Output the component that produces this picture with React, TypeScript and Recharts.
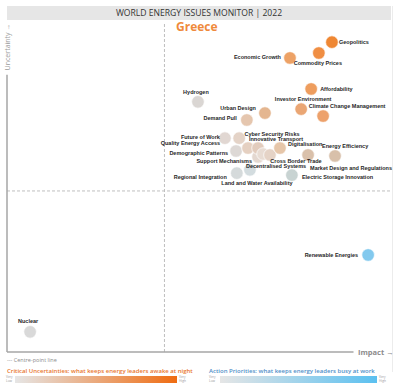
import { ScatterChart, Scatter, XAxis, YAxis, ReferenceLine } from "recharts";

// issue names, impact (x) and uncertainty (y)
const issueNames = [
  "Geopolitics", "Commodity Prices", "Economic Growth", "Affordability",
  "Investor Environment", "Climate Change Management", "Hydrogen", "Urban Design",
  "Demand Pull", "Future of Work", "Quality Energy Access", "Demographic Patterns",
  "Cyber Security Risks", "Support Mechanisms", "Innovative Transport",
  "Decentralised Systems", "Cross Border Trade", "Digitalisation", "Energy Efficiency",
  "Market Design and Regulations", "Regional Integration", "Land and Water Availability",
  "Electric Storage Innovation", "Renewable Energies", "Nuclear",
];
const impact = [
  84.4, 81.0, 73.5, 79.0, 76.4, 82.1, 49.6, 67.0, 62.3, 56.6, 60.3, 59.5, 62.6,
  65.2, 65.2, 66.5, 68.3, 70.9, 78.2, 85.2, 59.7, 63.1, 74.0, 93.8, 6.0,
];
const uncertainty = [
  93.9, 90.6, 89.1, 79.7, 73.6, 71.5, 75.8, 72.4, 70.3, 64.8, 64.8, 60.9, 61.8,
  59.1, 61.8, 60.0, 59.7, 61.8, 59.7, 59.4, 54.2, 55.2, 53.6, 29.4, 6.1,
];
const centreX = 40.9;
const centreY = 48.8;

const colors: Record<string, string> = {
  "Geopolitics": "#ef8733",
  "Commodity Prices": "#f08e43",
  "Economic Growth": "#eda266",
  "Affordability": "#ee9d5e",
  "Investor Environment": "#eaa674",
  "Climate Change Management": "#eda16b",
  "Hydrogen": "#dad6d3",
  "Urban Design": "#e4b690",
  "Demand Pull": "#e5c6ae",
  "Future of Work": "#e1d7d2",
  "Quality Energy Access": "#e4d3c7",
  "Demographic Patterns": "#ddd8d5",
  "Cyber Security Risks": "#e5d0c1",
  "Support Mechanisms": "#e4d8d0",
  "Innovative Transport": "#e2ccbd",
  "Decentralised Systems": "#e8dcd3",
  "Cross Border Trade": "#e5d3c6",
  "Digitalisation": "#e6c6a9",
  "Energy Efficiency": "#d9c0aa",
  "Market Design and Regulations": "#d8c0aa",
  "Regional Integration": "#d5dadb",
  "Land and Water Availability": "#d3dcdf",
  "Electric Storage Innovation": "#c8d3d2",
  "Renewable Energies": "#82c9ee",
  "Nuclear": "#d9d9d9",
};

// label placement relative to bubble: [dx, dy, anchor]
const labelPos: Record<string, [number, number, string]> = {
  "Geopolitics": [7, 0, "start"],
  "Commodity Prices": [-1, 10, "middle"],
  "Economic Growth": [-9, -1, "end"],
  "Affordability": [9, 0, "start"],
  "Investor Environment": [2, -10, "middle"],
  "Climate Change Management": [24, -10, "middle"],
  "Hydrogen": [-2, -10, "middle"],
  "Urban Design": [-9, -5, "end"],
  "Demand Pull": [-10, -2, "end"],
  "Future of Work": [-5, -1, "end"],
  "Quality Energy Access": [-19, 5, "end"],
  "Demographic Patterns": [-8, 2, "end"],
  "Cyber Security Risks": [24, -14, "middle"],
  "Support Mechanisms": [-6, 4, "end"],
  "Innovative Transport": [18, -9, "middle"],
  "Decentralised Systems": [13, 12, "middle"],
  "Cross Border Trade": [26, 6, "middle"],
  "Digitalisation": [8, -4, "start"],
  "Energy Efficiency": [14, -9, "start"],
  "Market Design and Regulations": [16, 12, "middle"],
  "Regional Integration": [-10, 4, "end"],
  "Land and Water Availability": [7, 13, "middle"],
  "Electric Storage Innovation": [10, 2, "start"],
  "Renewable Energies": [-10, 0, "end"],
  "Nuclear": [-2, -11, "middle"],
};

const data = issueNames.map((name, i) => ({
  name,
  x: impact[i],
  y: uncertainty[i],
}));

const Bubble = (props: any) => {
  const { cx, cy, payload } = props;
  return <circle cx={cx} cy={cy} r={6.3} fill={colors[payload.name]} stroke="#fff" strokeWidth={0.7} />;
};

const BubbleLabel = (props: any) => {
  const { cx, cy, payload } = props;
  const name = payload.name;
  const [dx, dy, anchor] = labelPos[name] ?? [8, 0, "start"];
  return (
    <text
      x={cx + dx}
      y={cy + dy}
      textAnchor={anchor as any}
      dominantBaseline="central"
      fontSize={5.5}
      fontWeight="bold"
      fill="#1f1f1f"
      fontFamily="Liberation Sans, Arial, sans-serif"
    >
      {name}
    </text>
  );
};

const font = "'Open Sans', 'Liberation Sans', sans-serif";

export default function App() {
  return (
    <div
      style={{
        position: "absolute",
        left: 0,
        top: 0,
        width: 420,
        height: 388,
        background: "#fff",
        fontFamily: font,
        overflow: "hidden",
      }}
    >
      <div
        style={{
          position: "absolute",
          left: 7,
          top: 6,
          width: 384,
          height: 14,
          background: "#e6e6e6",
          color: "#333",
          fontSize: 8.6,
          lineHeight: "14px",
          textAlign: "center",
        }}
      >
        WORLD ENERGY ISSUES MONITOR | 2022
      </div>
      <div
        style={{
          position: "absolute",
          left: 392,
          top: 6,
          width: 1,
          height: 366,
          background: "#ececec",
        }}
      />
      <ScatterChart
        width={420}
        height={388}
        margin={{ top: 22, right: 28, bottom: 36, left: 7 }}
        style={{ position: "absolute", left: 0, top: 0 }}
      >
        <XAxis type="number" dataKey="x" domain={[0, 100]} hide />
        <YAxis type="number" dataKey="y" domain={[0, 100]} hide />
        <ReferenceLine
          segment={[{ x: centreX, y: 0 }, { x: centreX, y: 100 }]}
          stroke="#bfbfbf"
          strokeDasharray="3 2"
          strokeWidth={1}
        />
        <ReferenceLine
          segment={[{ x: 0, y: centreY }, { x: 100, y: centreY }]}
          stroke="#bfbfbf"
          strokeDasharray="3 2"
          strokeWidth={1}
        />
        <ReferenceLine
          segment={[{ x: 0, y: 0 }, { x: 0, y: 84 }]}
          stroke="#a6a6a6"
          strokeWidth={1.5}
        />
        <ReferenceLine
          segment={[{ x: 0, y: 0 }, { x: 90, y: 0 }]}
          stroke="#a6a6a6"
          strokeWidth={1.5}
        />
        <Scatter data={data} shape={Bubble} isAnimationActive={false} />
        <Scatter data={data} shape={BubbleLabel} isAnimationActive={false} />
      </ScatterChart>
      <div
        style={{
          position: "absolute",
          left: 176,
          top: 20,
          fontSize: 12,
          fontWeight: "bold",
          color: "#ef8a3c",
          lineHeight: "14px",
        }}
      >
        Greece
      </div>
      <div
        style={{
          position: "absolute",
          left: 7,
          top: 47,
          width: 0,
          height: 0,
        }}
      >
        <div
          style={{
            position: "absolute",
            left: -24,
            top: -5,
            width: 50,
            fontSize: 7,
            color: "#9a9a9a",
            lineHeight: "10px",
            transform: "rotate(-90deg)",
            textAlign: "center",
            whiteSpace: "nowrap",
          }}
        >
          Uncertainty →
        </div>
      </div>
      <div
        style={{
          position: "absolute",
          left: 358,
          top: 347,
          fontSize: 7.5,
          fontWeight: "bold",
          color: "#8c8c8c",
          lineHeight: "11px",
          whiteSpace: "nowrap",
        }}
      >
        Impact →
      </div>
      <div
        style={{
          position: "absolute",
          left: 7,
          top: 356,
          fontSize: 5.5,
          color: "#8c8c8c",
          lineHeight: "8px",
          whiteSpace: "nowrap",
        }}
      >
        --- Centre-point line
      </div>
      <div
        style={{
          position: "absolute",
          left: 7,
          top: 367,
          fontSize: 6,
          fontWeight: 600,
          color: "#e8762e",
          lineHeight: "8px",
          whiteSpace: "nowrap",
        }}
      >
        Critical Uncertainties: what keeps energy leaders awake at night
      </div>
      <div
        style={{
          position: "absolute",
          left: 15,
          top: 376,
          width: 162,
          height: 7,
          background: "linear-gradient(to right, #e6e6e6, #ef6c12)",
        }}
      />
      <div style={{ position: "absolute", left: 6, top: 375, fontSize: 3.2, color: "#999", lineHeight: "4px" }}>
        Very<br />Low
      </div>
      <div style={{ position: "absolute", left: 179, top: 375, fontSize: 3.2, color: "#999", lineHeight: "4px" }}>
        Very<br />High
      </div>
      <div
        style={{
          position: "absolute",
          left: 209,
          top: 367,
          fontSize: 6,
          fontWeight: 600,
          color: "#4f8fc8",
          lineHeight: "8px",
          whiteSpace: "nowrap",
        }}
      >
        Action Priorities: what keeps energy leaders busy at work
      </div>
      <div
        style={{
          position: "absolute",
          left: 220,
          top: 376,
          width: 157,
          height: 7,
          background: "linear-gradient(to right, #e6e6e6, #5bc0f0)",
        }}
      />
      <div style={{ position: "absolute", left: 209, top: 375, fontSize: 3.2, color: "#999", lineHeight: "4px" }}>
        Very<br />Low
      </div>
      <div style={{ position: "absolute", left: 379, top: 375, fontSize: 3.2, color: "#999", lineHeight: "4px" }}>
        Very<br />High
      </div>
    </div>
  );
}
